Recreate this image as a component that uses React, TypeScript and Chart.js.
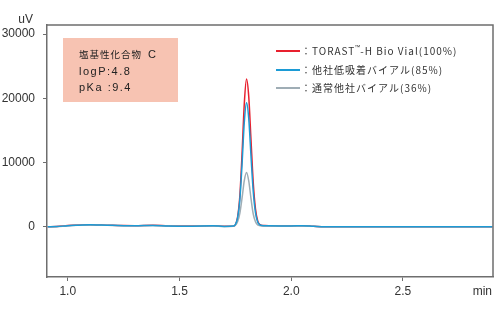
import React, { useEffect, useRef } from "react";
import { Chart, registerables } from "chart.js";

Chart.register(...registerables);

const times = [0.91, 0.95, 1.0, 1.05, 1.1, 1.15, 1.2, 1.25, 1.3, 1.38, 1.45, 1.55, 1.65, 1.7, 1.74, 1.75, 1.76, 1.77, 1.78, 1.79, 1.8, 1.81, 1.82, 1.83, 1.84, 1.85, 1.86, 1.87, 1.88, 1.9, 1.95, 2.0, 2.05, 2.1, 2.15, 2.3, 2.5, 2.7, 2.9];

const redValues = [0, 50, 200, 280, 320, 280, 250, 200, 180, 250, 150, 120, 180, 80, 100, 300, 1500, 4800, 11400, 19200, 23000, 20200, 13500, 6900, 2800, 900, 350, 220, 200, 180, 170, 160, 180, 100, 30, 20, 0, 0, 10];
const blueValues = [0, 40, 180, 260, 330, 270, 240, 190, 170, 230, 140, 110, 160, 70, 120, 350, 1400, 4200, 9800, 16300, 19300, 16800, 11000, 5500, 2200, 750, 300, 200, 180, 160, 150, 150, 170, 90, 20, 10, 0, 0, 0];
const grayValues = [0, 30, 160, 240, 300, 250, 220, 180, 160, 210, 130, 100, 150, 60, 110, 250, 800, 2100, 4500, 7200, 8450, 7100, 4400, 2000, 800, 300, 180, 150, 140, 130, 130, 130, 150, 80, 20, 10, 0, 0, 0];

const xTicks = [1.0, 1.5, 2.0, 2.5];
const yTicks = [0, 10000, 20000, 30000];

const seriesLabels = [
  ["\uFF1ATORAST", "\u2122", "-H Bio Vial(100%)"],
  ["\uFF1A\u4ED6\u793E\u4F4E\u5438\u7740\u30D0\u30A4\u30A2\u30EB(85%)", "", ""],
  ["\uFF1A\u901A\u5E38\u4ED6\u793E\u30D0\u30A4\u30A2\u30EB(36%)", "", ""],
];
const seriesColors = ["#e8202e", "#1c9bd5", "#9fadb5"];
const boxTitle = "\u5869\u57FA\u6027\u5316\u5408\u7269";
const boxTitleSuffix = "C";
const boxLines = ["logP:4.8", "pKa :9.4"];

const AXIS = "#6e6e6e";

export default function App() {
  const ref = useRef<HTMLCanvasElement | null>(null);
  useEffect(() => {
    document.body.style.margin = "0";
    const canvas = ref.current!;
    const mk = (vals: number[]) => times.map((t, i) => ({ x: t, y: vals[i] }));
    const overlay = {
      id: "overlay",
      beforeDatasetsDraw(chart: any) {
        const ctx = chart.ctx;
        ctx.save();
        ctx.fillStyle = "#f7c3b2";
        ctx.fillRect(63, 38, 115, 64);
        ctx.fillStyle = "#222";
        ctx.textBaseline = "alphabetic";
        ctx.font = "9.5px 'Noto Sans CJK JP', 'Noto Sans', sans-serif";
        (ctx as any).letterSpacing = "1px";
        ctx.fillText(boxTitle, 79, 58);
        ctx.font = "11px 'Liberation Sans', sans-serif";
        ctx.fillText(boxTitleSuffix, 148, 58);
        (ctx as any).letterSpacing = "1.5px";
        ctx.fillText(boxLines[0], 79, 75);
        ctx.fillText(boxLines[1], 79, 91);
        ctx.restore();
      },
      afterDraw(chart: any) {
        const ctx = chart.ctx;
        const a = chart.chartArea;
        ctx.save();
        ctx.strokeStyle = AXIS;
        ctx.lineWidth = 1.5;
        ctx.beginPath();
        ctx.moveTo(a.left, a.top);
        ctx.lineTo(a.right, a.top);
        ctx.lineTo(a.right, a.bottom);
        ctx.stroke();
        // legend
        const ys = [51, 70, 88];
        const font = "10px 'Noto Sans CJK JP', 'Liberation Sans', sans-serif";
        (ctx as any).letterSpacing = "1px";
        ctx.textBaseline = "middle";
        for (let i = 0; i < 3; i++) {
          ctx.strokeStyle = seriesColors[i];
          ctx.lineWidth = 2;
          ctx.beginPath();
          ctx.moveTo(276, ys[i]);
          ctx.lineTo(300, ys[i]);
          ctx.stroke();
          ctx.fillStyle = "#333";
          ctx.font = font;
          const [a1, sup, a2] = seriesLabels[i];
          let x = 301;
          ctx.fillText(a1, x, ys[i]);
          x += ctx.measureText(a1).width;
          if (sup) {
            ctx.font = "6px 'Liberation Sans', sans-serif";
            (ctx as any).letterSpacing = "0px";
            ctx.fillText(sup, x - 1, ys[i] - 4);
            x += ctx.measureText(sup).width - 1;
            ctx.font = font;
            (ctx as any).letterSpacing = "1px";
          }
          if (a2) ctx.fillText(a2, x, ys[i]);
        }
        (ctx as any).letterSpacing = "0px";
        ctx.font = "12px 'Liberation Sans', sans-serif";
        ctx.fillStyle = "#333";
        ctx.textBaseline = "alphabetic";
        ctx.textAlign = "right";
        ctx.fillText("uV", 33, 23);
        ctx.fillText("min", 492, 295);
        ctx.restore();
      },
    };
    const chart = new Chart(canvas, {
      type: "line",
      data: {
        datasets: [
          { label: "blue", data: mk(blueValues), borderColor: seriesColors[1], borderWidth: 1.5, pointRadius: 0, cubicInterpolationMode: "monotone" },
          { label: "gray", data: mk(grayValues), borderColor: seriesColors[2], borderWidth: 1.5, pointRadius: 0, cubicInterpolationMode: "monotone" },
          { label: "red", data: mk(redValues), borderColor: seriesColors[0], borderWidth: 1.5, pointRadius: 0, cubicInterpolationMode: "monotone" },
        ],
      },
      options: {
        animation: false,
        responsive: false,
        layout: { padding: { top: 25, right: 7, left: 0, bottom: 0 } },
        plugins: { legend: { display: false }, tooltip: { enabled: false } },
        scales: {
          x: {
            type: "linear",
            min: 0.907,
            max: 2.903,
            afterBuildTicks: (s: any) => { s.ticks = xTicks.map((v) => ({ value: v })); },
            afterFit: (s: any) => { s.height = 40; },
            grid: { drawOnChartArea: false, drawTicks: true, tickLength: 4, color: AXIS },
            border: { color: AXIS, width: 1.5 },
            ticks: { color: "#333", font: { family: "'Liberation Sans', sans-serif", size: 12 }, padding: 3, callback: (v: any) => Number(v).toFixed(1), maxRotation: 0 },
          },
          y: {
            min: -7800,
            max: 31400,
            afterBuildTicks: (s: any) => { s.ticks = yTicks.map((v) => ({ value: v })); },
            afterFit: (s: any) => { s.width = 47; },
            grid: { drawOnChartArea: false, drawTicks: true, tickLength: 4, color: AXIS },
            border: { color: AXIS, width: 1.5 },
            ticks: { color: "#333", font: { family: "'Liberation Sans', sans-serif", size: 12 }, padding: 8, callback: (v: any) => String(v) },
          },
        },
      },
      plugins: [overlay],
    } as any);
    return () => chart.destroy();
  }, []);
  return <canvas ref={ref} width={500} height={317} style={{ display: "block", width: 500, height: 317 }} />;
}
